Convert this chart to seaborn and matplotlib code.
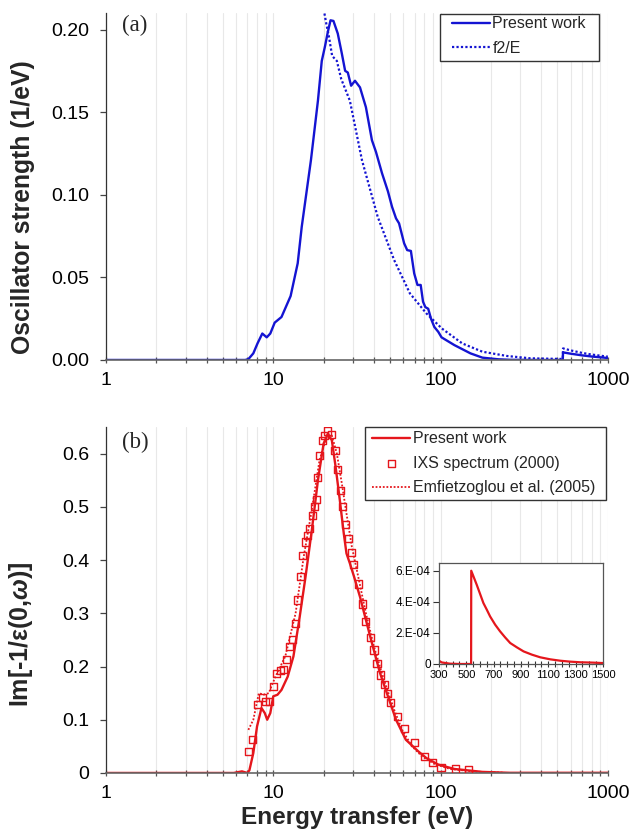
import numpy as np
import pandas as pd
import matplotlib
matplotlib.use("Agg")
import matplotlib.pyplot as plt
from matplotlib.patches import Rectangle
from matplotlib.ticker import (LogLocator, FixedLocator, NullFormatter, FixedFormatter,
                               MultipleLocator, FuncFormatter, FormatStrFormatter)
import seaborn as sns

# ---------------- data ----------------
# (a) oscillator strength, present work
osc_E = [1, 3, 6.8, 7.1, 7.6, 8.05, 8.6, 9.14, 9.6, 10.2, 11.2, 12.7, 14.0, 14.8, 16.8, 18.5, 19.5,
         20.4, 21.2, 22.0, 22.9, 24.3, 25.7, 26.9, 27.9, 29.2, 30.8, 33.0, 35.8, 38.9, 41.1, 44.7,
         48.5, 51.3, 54.2, 56.5, 60.6, 63.2, 66.5, 69.6, 72.8, 76.1, 78.6, 81.1, 84.4, 87.7, 91.8,
         97.0, 101.4, 121, 151, 178, 222, 260, 400, 538, 540, 600, 700, 800, 1000]
osc_f = [0, 0, 0, 0.0005, 0.004, 0.010, 0.016, 0.0137, 0.016, 0.0226, 0.026, 0.0387, 0.0585, 0.0806,
         0.121, 0.157, 0.181, 0.190, 0.1986, 0.2056, 0.2052, 0.1976, 0.1855, 0.175, 0.174, 0.166,
         0.169, 0.165, 0.153, 0.133, 0.126, 0.113, 0.102, 0.0927, 0.0857, 0.0827, 0.0706, 0.0665,
         0.066, 0.0524, 0.0454, 0.0454, 0.0353, 0.032, 0.031, 0.025, 0.020, 0.017, 0.0137, 0.009,
         0.004, 0.0014, 0.0004, 0.0001, 0, 0, 0.0046, 0.0038, 0.0028, 0.0021, 0.0012]

# (a) f2/E
f2E_E = [19.8, 20.8, 21.5, 22.5, 24.0, 25.5, 28.7, 33.9, 42.1, 52.8, 65.6, 82.3, 102, 135, 178,
         250, 345, 538, 540, 600, 700, 800, 1000]
f2E_f = [0.215, 0.203, 0.196, 0.184, 0.181, 0.170, 0.157, 0.121, 0.0867, 0.0605, 0.0403, 0.0282,
         0.019, 0.010, 0.005, 0.0024, 0.001, 0.0006, 0.007, 0.0058, 0.0043, 0.0033, 0.0020]

# (b) ELF, present work
elf_E = [1, 3, 5.8, 6.5, 7.0, 7.2, 7.6, 8.0, 8.5, 8.9, 9.2, 9.6, 10.0, 10.6, 11.2, 12.2, 13.2, 14.3,
         15.6, 17.0, 18.5, 20.0, 21.2, 22.4, 23.6, 25.0, 26.4, 27.4, 28.7, 30.4, 33.0, 35.8, 38.9,
         43.5, 48.5, 54.2, 62.0, 73.6, 82.3, 97, 121, 178, 260, 1000]
elf_v = [0, 0, 0, 0.003, 0, 0.005, 0.0375, 0.0875, 0.122, 0.1125, 0.100, 0.1125, 0.144, 0.147,
         0.156, 0.181, 0.219, 0.2875, 0.369, 0.456, 0.550, 0.619, 0.6375, 0.625, 0.575, 0.5125,
         0.450, 0.4125, 0.394, 0.369, 0.331, 0.2875, 0.244, 0.1875, 0.144, 0.100, 0.0625, 0.0406,
         0.028, 0.0156, 0.0075, 0.002, 0.0003, 0.0003]

# (b) IXS spectrum (2000)
ixs_E = [7.09, 7.53, 8.05, 8.6, 8.98, 9.5, 10.0, 10.5, 11.0, 11.5, 12.0, 12.5, 13.0, 13.5, 14.0,
         14.5, 15.0, 15.5, 16.0, 16.5, 17.2, 17.7, 18.1, 18.5, 19.0, 19.6, 20.2, 21.2, 22.2, 23.4,
         24.3, 25.3, 26.1, 27.1, 28.1, 29.2, 30.0, 32.2, 34.0, 35.8, 37.9, 40.0, 41.7, 44.0, 46.0,
         47.9, 50.0, 55.0, 60.6, 69.6, 79.9, 89.4, 100.6, 123, 147]
ixs_v = [0.0406, 0.0625, 0.128, 0.142, 0.134, 0.135, 0.1625, 0.1875, 0.1925, 0.194, 0.2125, 0.2375,
         0.251, 0.280, 0.325, 0.369, 0.409, 0.434, 0.447, 0.459, 0.484, 0.500, 0.514, 0.555, 0.597,
         0.624, 0.634, 0.6425, 0.636, 0.606, 0.571, 0.531, 0.500, 0.4675, 0.4406, 0.414, 0.392,
         0.355, 0.3175, 0.285, 0.255, 0.231, 0.206, 0.184, 0.1656, 0.150, 0.1325, 0.106, 0.084,
         0.0575, 0.031, 0.019, 0.0106, 0.0075, 0.00625]

# (b) Emfietzoglou et al. (2005)
emf_E = [7.1, 7.6, 8.2, 8.75, 9.4, 10.3, 11.8, 13.6, 15.2, 17.0, 18.9, 20.8, 22.4, 24.0, 25.7,
         27.4, 29.5, 32.2, 35.8, 40.0, 45.9, 52.8, 58.9, 67.6, 77.6, 91.8, 114, 160, 235]
emf_v = [0.081, 0.100, 0.150, 0.147, 0.150, 0.181, 0.219, 0.300, 0.406, 0.494, 0.5875, 0.631,
         0.634, 0.600, 0.544, 0.4875, 0.425, 0.369, 0.300, 0.2375, 0.175, 0.119, 0.081, 0.050,
         0.031, 0.017, 0.0075, 0.0025, 0.0006]

# inset: K-shell tail
ins_E = [300, 320, 380, 450, 535, 536, 552, 576, 601, 625, 650, 674, 711, 747, 784, 821, 870,
         919, 980, 1041, 1114, 1188, 1261, 1334, 1420, 1500]
ins_v = [0.21e-4, 0.10e-4, 0.02e-4, 0, 0, 6.0e-4, 5.64e-4, 5.10e-4, 4.5e-4, 3.92e-4, 3.49e-4,
         3.06e-4, 2.53e-4, 2.10e-4, 1.71e-4, 1.35e-4, 1.07e-4, 0.81e-4, 0.60e-4, 0.43e-4, 0.30e-4,
         0.21e-4, 0.15e-4, 0.11e-4, 0.09e-4, 0.06e-4]
ins_yticks = [0, 2e-4, 4e-4, 6e-4]
ins_ylabels = ["0", "2.E-04", "4.E-04", "6.E-04"]
ins_xticks = [300, 500, 700, 900, 1100, 1300, 1500]

# ---------------- style ----------------
sns.set_style("white")
plt.rcParams['font.family'] = ['Liberation Sans', 'DejaVu Sans']
plt.rcParams['mathtext.fontset'] = 'custom'
plt.rcParams['mathtext.it'] = 'Liberation Sans:italic:bold'
plt.rcParams['mathtext.rm'] = 'Liberation Sans:bold'

BLUE = "#1414d2"
RED = "#e5161c"
GRID = "#e8e8e8"

fig = plt.figure(figsize=(6.32, 8.35), dpi=100)
ax1 = fig.add_axes([0.1677, 0.5689, 0.794, 0.4155])
ax2 = fig.add_axes([0.1677, 0.0743, 0.794, 0.4143])


def style_main(ax):
    ax.set_xscale('log')
    ax.set_xlim(1, 1000)
    ax.xaxis.set_major_locator(LogLocator(base=10, numticks=10))
    ax.xaxis.set_minor_locator(LogLocator(base=10, subs=np.arange(2, 10), numticks=20))
    ax.xaxis.set_major_formatter(FuncFormatter(lambda v, p: f'{v:g}'))
    ax.xaxis.set_minor_formatter(NullFormatter())
    ax.grid(True, which='both', axis='x', color=GRID, linewidth=0.8)
    ax.grid(False, axis='y')
    for s in ['top', 'right']:
        ax.spines[s].set_visible(False)
    ax.spines['left'].set_color('#333333')
    ax.spines['bottom'].set_color('#666666')
    ax.spines['left'].set_linewidth(0.9)
    ax.spines['bottom'].set_linewidth(1.2)
    ax.tick_params(axis='x', which='both', direction='inout', length=5, width=0.9,
                   colors='#555555', labelcolor='black', labelsize=14, pad=6, bottom=True)
    ax.tick_params(axis='y', which='both', direction='out', length=4, width=0.9,
                   colors='#444444', labelcolor='black', labelsize=14, pad=8, left=True)
    ax.set_axisbelow(True)


def legend_box(ax, x0, y0, x1, y1):
    ax.add_patch(Rectangle((x0, y0), x1 - x0, y1 - y0, transform=ax.transAxes,
                           facecolor='white', edgecolor='#333333', linewidth=1.0,
                           zorder=4, clip_on=False))


LEG_KW = dict(frameon=False, fontsize=11.5, handlelength=2.4, handletextpad=0.15,
              borderpad=0, labelspacing=0.6, borderaxespad=0)

# panel (a)
df_osc = pd.DataFrame({'E': osc_E, 'f': osc_f})
df_f2e = pd.DataFrame({'E': f2E_E, 'f': f2E_f})
sns.lineplot(data=df_osc, x='E', y='f', ax=ax1, color=BLUE, lw=1.7, sort=False,
             estimator=None, label='Present work')
sns.lineplot(data=df_f2e, x='E', y='f', ax=ax1, color=BLUE, lw=1.6, sort=False,
             estimator=None, label='f2/E', linestyle=(0, (1, 1)))
style_main(ax1)
ax1.set_ylim(0, 0.21)
ax1.yaxis.set_major_locator(MultipleLocator(0.05))
ax1.yaxis.set_major_formatter(FormatStrFormatter('%.2f'))
ax1.set_xlabel('')
ax1.set_ylabel('Oscillator strength (1/eV)', fontsize=17.8, fontweight='bold')
ax1.yaxis.set_label_coords(-0.141, 0.44)
ax1.text(0.031, 0.965, '(a)', transform=ax1.transAxes, fontsize=16.5,
         family='Liberation Serif', va='center', ha='left')
legend_box(ax1, 0.665, 0.862, 0.982, 0.997)
leg1 = ax1.legend(loc='upper left', bbox_to_anchor=(0.689, 0.991), **LEG_KW)
leg1.set_zorder(5)

# panel (b)
df_elf = pd.DataFrame({'E': elf_E, 'v': elf_v})
df_ixs = pd.DataFrame({'E': ixs_E, 'v': ixs_v})
df_emf = pd.DataFrame({'E': emf_E, 'v': emf_v})
sns.lineplot(data=df_elf, x='E', y='v', ax=ax2, color=RED, lw=1.7, sort=False,
             estimator=None, label='Present work')
sns.scatterplot(data=df_ixs, x='E', y='v', ax=ax2, marker='s', s=26, facecolor='none',
                edgecolor=RED, linewidth=1.0, label='IXS spectrum (2000)', zorder=3)
sns.lineplot(data=df_emf, x='E', y='v', ax=ax2, color=RED, lw=1.3, sort=False,
             estimator=None, label='Emfietzoglou et al. (2005)', linestyle=(0, (1, 1)))
style_main(ax2)
ax2.set_ylim(0, 0.65)
ax2.yaxis.set_major_locator(MultipleLocator(0.1))
ax2.yaxis.set_major_formatter(FuncFormatter(lambda v, p: '0' if abs(v) < 1e-9 else f'{v:.1f}'))
ax2.set_xlabel('Energy transfer (eV)', fontsize=17.5, fontweight='bold', labelpad=3)
ax2.set_ylabel(r'Im[-1/ε($\mathit{0}$,$\mathit{\omega}$)]', fontsize=18, fontweight='bold')
ax2.yaxis.set_label_coords(-0.141, 0.40)
ax2.text(0.031, 0.954, '(b)', transform=ax2.transAxes, fontsize=16.5,
         family='Liberation Serif', va='center', ha='left')
legend_box(ax2, 0.516, 0.789, 0.996, 1.0)
h, l = ax2.get_legend_handles_labels()
order = [l.index('Present work'), l.index('IXS spectrum (2000)'), l.index('Emfietzoglou et al. (2005)')]
leg2 = ax2.legend([h[i] for i in order], [l[i] for i in order], loc='upper left',
                  bbox_to_anchor=(0.530, 0.988), **LEG_KW)
leg2.set_zorder(5)

# inset
axi = fig.add_axes([0.6946, 0.2048, 0.2595, 0.121])
df_ins = pd.DataFrame({'E': ins_E, 'v': ins_v})
sns.lineplot(data=df_ins, x='E', y='v', ax=axi, color=RED, lw=1.6, sort=False,
             estimator=None, legend=False)
axi.set_xlim(300, 1500)
axi.set_ylim(0, 6.5e-4)
axi.xaxis.set_major_locator(FixedLocator(ins_xticks))
axi.xaxis.set_minor_locator(MultipleLocator(50))
axi.yaxis.set_major_locator(FixedLocator(ins_yticks))
axi.yaxis.set_major_formatter(FixedFormatter(ins_ylabels))
axi.set_xlabel('')
axi.set_ylabel('')
for s in axi.spines.values():
    s.set_color('#555555')
    s.set_linewidth(0.9)
axi.tick_params(axis='x', which='both', direction='inout', length=4, width=0.8,
                colors='#333333', labelcolor='black', labelsize=8, pad=2, bottom=True)
axi.tick_params(axis='y', which='both', direction='out', length=4, width=0.8,
                colors='#333333', labelcolor='black', labelsize=8.5, pad=2, left=True)
axi.grid(False)

fig.savefig('out.png', dpi=100)
